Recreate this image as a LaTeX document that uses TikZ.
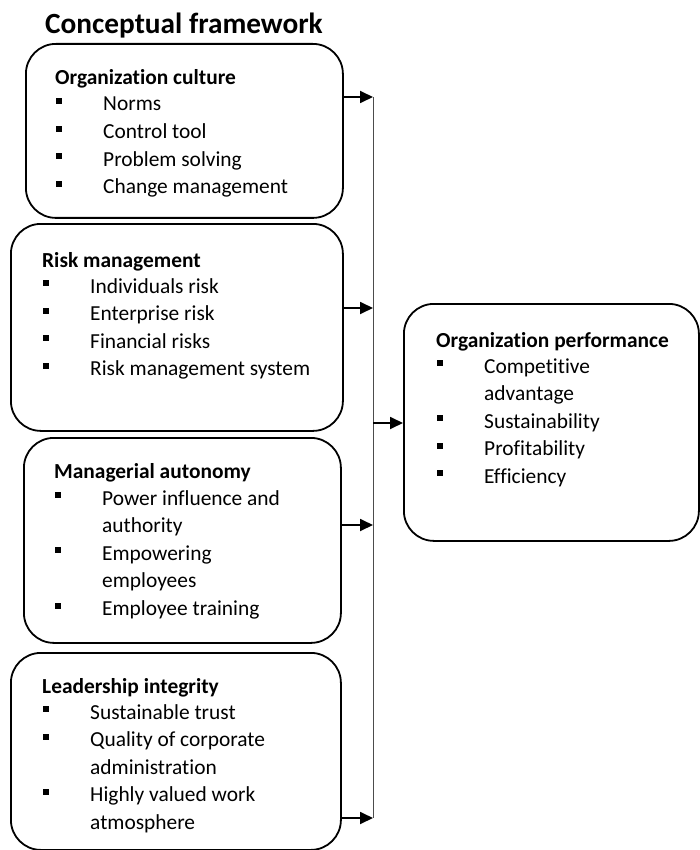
\documentclass[tikz,border=0pt]{standalone}
\usepackage{fontspec}
\setmainfont{Carlito}[Ligatures=NoCommon]
\usetikzlibrary{arrows.meta}
\newcommand{\bul}{\rule[7pt]{5.5pt}{6pt}}
\newcommand{\itm}[1]{\makebox[48pt][l]{\hspace*{1pt}\bul}#1}
\newcommand{\cnt}[1]{\hspace*{48pt}#1}
\newcommand{\boxtext}[1]{\parbox[t]{320pt}{\fontsize{21.4}{27.6}\selectfont\raggedright #1}}
\begin{document}
\begin{tikzpicture}[x=1pt,y=-1pt,
  box/.style={draw=black, line width=1.8pt, rounded corners=30pt, anchor=north west, inner sep=0pt},
  txt/.style={anchor=base west, inner sep=0pt},
  arr/.style={line width=1.8pt, -{Triangle[length=13pt,width=12pt]}},
  vline/.style={line width=1pt, draw=black!70}]
\useasboundingbox (0,0) rectangle (699,850);
% title
\node[anchor=base west, inner sep=0pt, font=\fontsize{29.3}{34}\selectfont\bfseries] (title) at (45,34) {Conceptual framework};
% boxes
\node[box, minimum width=317pt, minimum height=174pt] (b1) at (25,43) {};
\node[box, minimum width=332pt, minimum height=207pt] (b2) at (10,223) {};
\node[box, minimum width=317pt, minimum height=205pt] (b3) at (23,437) {};
\node[box, minimum width=330pt, minimum height=197pt] (b4) at (10,652) {};
\node[box, minimum width=295pt, minimum height=237pt] (perf) at (403,303) {};
% texts
\node[txt] (t1) at (55,85) {\boxtext{\textbf{Organization culture}\\[-1.6pt]
\itm{Norms}\\ \itm{Control tool}\\ \itm{Problem solving}\\ \itm{Change management}}};
\node[txt] (t2) at (42,267) {\boxtext{\textbf{Risk management}\\[-1.6pt]
\itm{Individuals risk}\\ \itm{Enterprise risk}\\ \itm{Financial risks}\\ \itm{Risk management system}}};
\node[txt] (t3) at (54,478.5) {\boxtext{\textbf{Managerial autonomy}\\[-1pt]
\itm{Power influence and}\\ \cnt{authority}\\ \itm{Empowering}\\ \cnt{employees}\\ \itm{Employee training}}};
\node[txt] (t4) at (42,693) {\boxtext{\textbf{Leadership integrity}\\[-1.6pt]
\itm{Sustainable trust}\\ \itm{Quality of corporate}\\ \cnt{administration}\\ \itm{Highly valued work}\\ \cnt{atmosphere}}};
\node[txt] (t5) at (436,347) {\boxtext{\textbf{Organization performance}\\[-1.6pt]
\itm{Competitive}\\ \cnt{advantage}\\ \itm{Sustainability}\\ \itm{Profitability}\\ \itm{Efficiency}}};
% junction line
\coordinate (j1) at (373,97);
\coordinate (j2) at (373,308);
\coordinate (j3) at (373,423);
\coordinate (j4) at (373,525);
\coordinate (j5) at (373,818);
\draw[vline] (j1) -- (j5);
\draw[arr] (b1.east |- j1) -- (j1);
\draw[arr] (b2.east |- j2) -- (j2);
\draw[arr] (b3.east |- j4) -- (j4);
\draw[arr] (b4.east |- j5) -- (j5);
\draw[arr] (j3) -- (perf.west |- j3);
\end{tikzpicture}
\end{document}
